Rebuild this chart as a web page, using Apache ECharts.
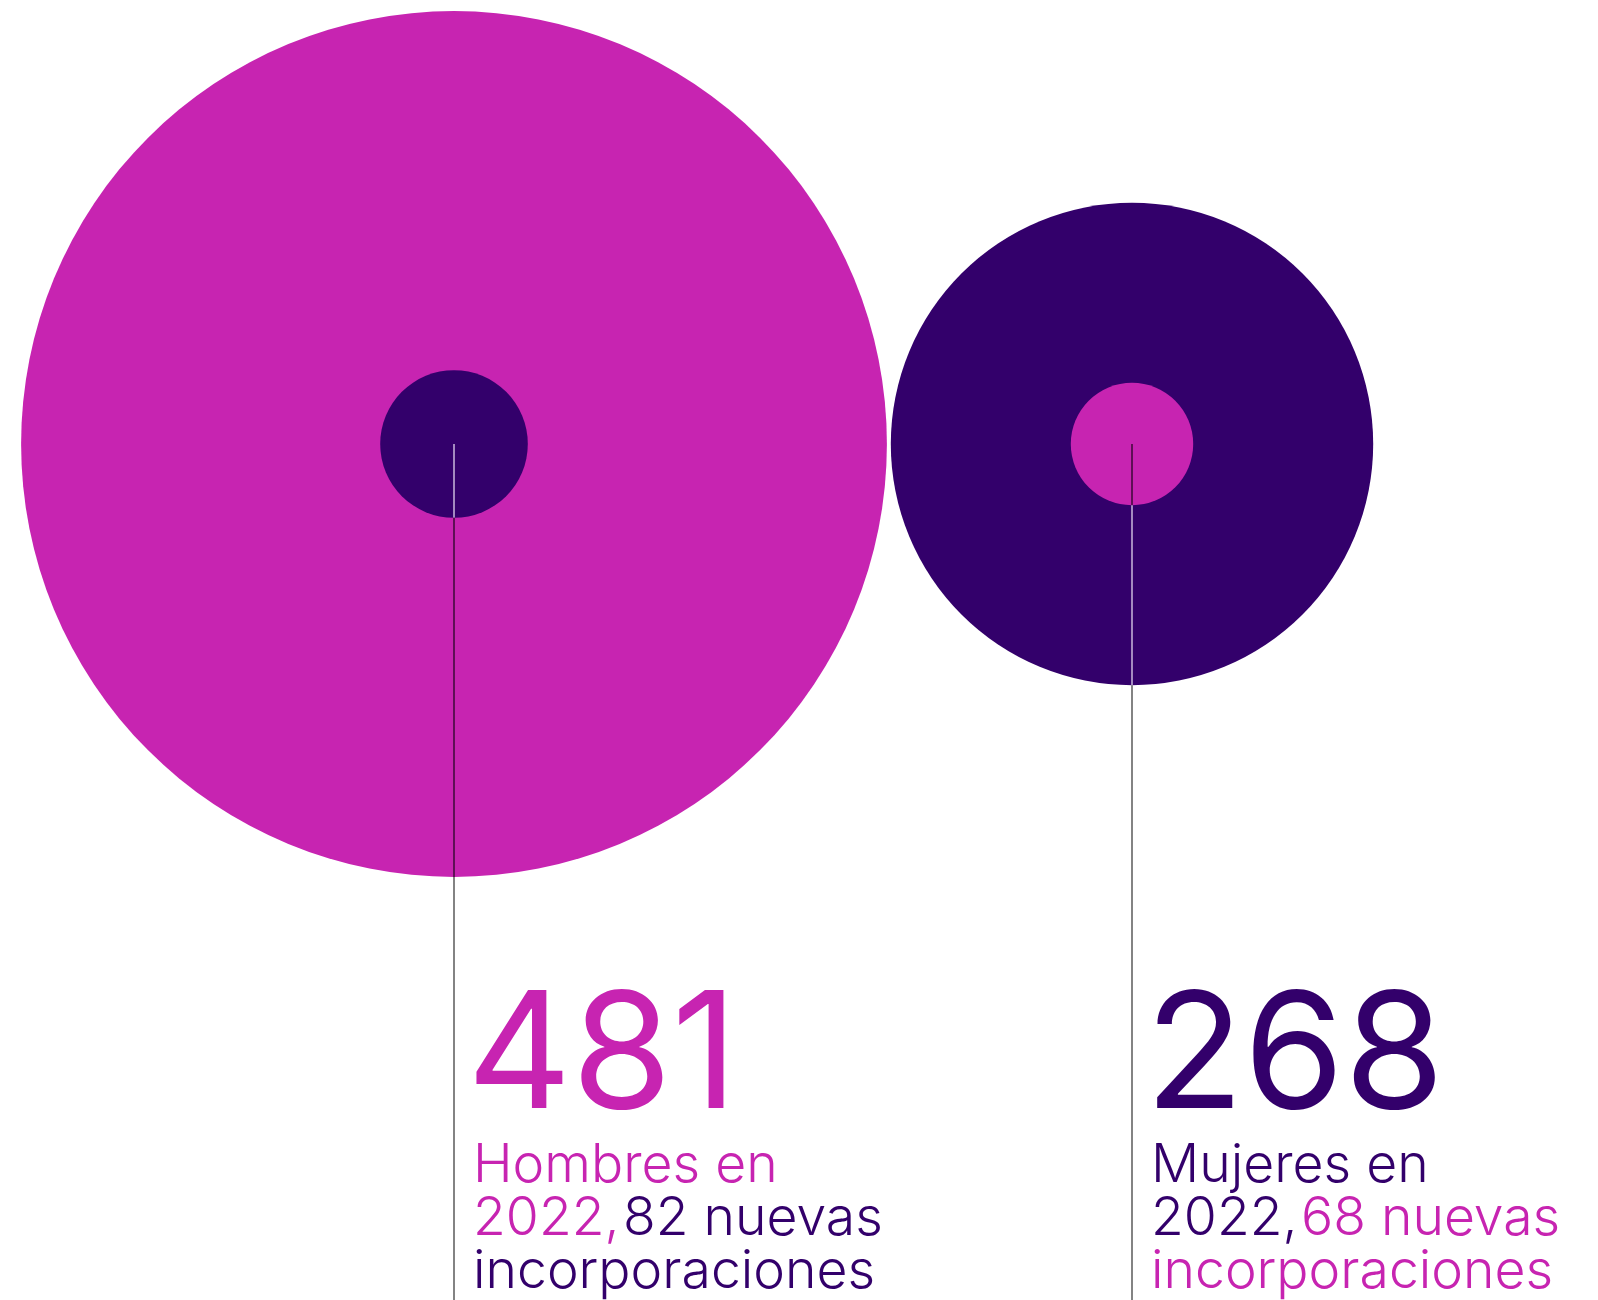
<!DOCTYPE html>
<html>
<head>
<meta charset="utf-8">
<script src="https://cdn.jsdelivr.net/npm/echarts@6/dist/echarts.min.js"></script>
<style>
  html, body { margin: 0; padding: 0; background: #fff; }
  #chart { width: 1598px; height: 1300px; }
</style>
</head>
<body>
<div id="chart"></div>
<script>
// datos
const categories = ['Hombres', 'Mujeres']
const totals = [481, 268]
const newHires = [82, 68]
const year = '2022'
const groupLabels = ['Hombres en', 'Mujeres en']

const PINK = '#C724B1'
const PURPLE = '#33006B'
const outerColors = [PINK, PURPLE]
const innerColors = [PURPLE, PINK]
// color de la linea segun el fondo que cruza
const lineOn = { [PINK]: '#3d0838', [PURPLE]: '#cbb8dc', white: '#5a5a5a' }

const RADIUS_PER_UNIT = 0.9 // px de radio por persona
const CENTER_Y = 444
const NUMBER_Y = 1059
const TEXT_TOP = 1139
const NUMBER_OFFSET = 13
const TEXT_OFFSET = 19
const FONT = 'Inter, "Noto Sans", sans-serif'

const chart = echarts.init(document.getElementById('chart'))

function renderItem(params, api) {
  const i = params.dataIndex
  const c = api.coord([api.value(0), CENTER_Y])
  const R = api.value(1) * RADIUS_PER_UNIT
  const r = api.value(2) * RADIUS_PER_UNIT
  const bottom = params.coordSys.y + params.coordSys.height
  const outer = outerColors[i]
  const inner = innerColors[i]
  const seg = (y1, y2, color) => ({
    type: 'line',
    shape: { x1: c[0], y1: y1, x2: c[0], y2: y2 },
    style: { stroke: color, lineWidth: 1.5 }
  })
  return {
    type: 'group',
    children: [
      { type: 'circle', shape: { cx: c[0], cy: c[1], r: R }, style: { fill: outer } },
      { type: 'circle', shape: { cx: c[0], cy: c[1], r: r }, style: { fill: inner } },
      seg(c[1], c[1] + r, lineOn[inner]),
      seg(c[1] + r, c[1] + R, lineOn[outer]),
      seg(c[1] + R, bottom, lineOn.white),
      {
        type: 'text',
        x: c[0] + NUMBER_OFFSET,
        y: NUMBER_Y,
        style: {
          text: String(api.value(1)),
          fill: outer,
          fontSize: 162,
          fontFamily: FONT,
          fontWeight: 400,
          verticalAlign: 'middle'
        }
      },
      {
        type: 'text',
        x: c[0] + TEXT_OFFSET,
        y: TEXT_TOP,
        style: {
          text: `{a|${groupLabels[i]}}\n{a|${year},} {b|${api.value(2)} nuevas}\n{b|incorporaciones}`,
          verticalAlign: 'top',
          rich: {
            a: { fill: outer, fontSize: 53.5, lineHeight: 53, fontFamily: FONT, fontWeight: 300 },
            b: { fill: inner, fontSize: 53.5, lineHeight: 53, fontFamily: FONT, fontWeight: 300 }
          }
        }
      }
    ]
  }
}

chart.setOption({
  animation: false,
  backgroundColor: '#fff',
  grid: { left: 115, right: 127, top: 0, bottom: 0 },
  xAxis: { type: 'category', data: categories, show: false },
  yAxis: { type: 'value', min: 0, max: 1300, inverse: true, show: false },
  series: [{
    type: 'custom',
    renderItem: renderItem,
    data: categories.map((c, i) => [i, totals[i], newHires[i]])
  }]
})
</script>
</body>
</html>
